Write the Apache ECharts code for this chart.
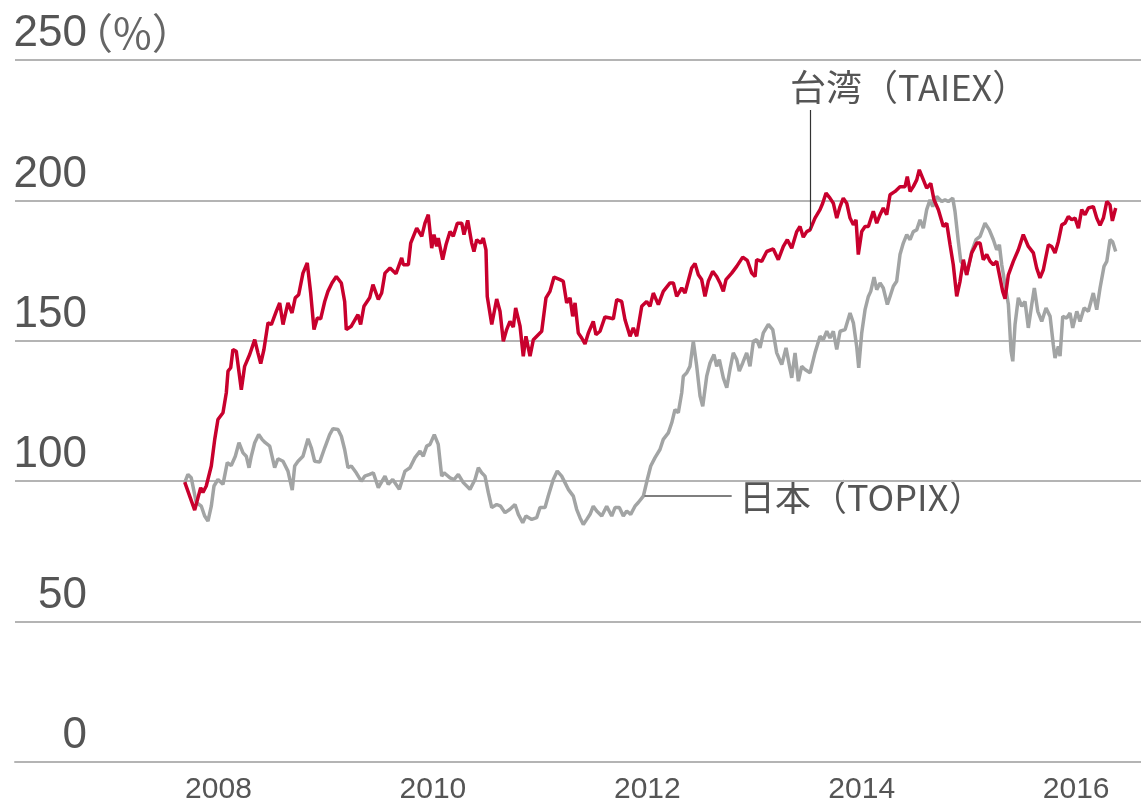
<!DOCTYPE html>
<html>
<head>
<meta charset="utf-8">
<script src="https://cdn.jsdelivr.net/npm/echarts@6/dist/echarts.min.js"></script>
<style>
  html, body { margin: 0; padding: 0; background: #fff; }
  #chart { width: 1141px; height: 805px; }
</style>
</head>
<body>
<div id="chart"></div>
<script>
// 目盛り
const yearTicks = [2008, 2010, 2012, 2014, 2016]
const unitLabel = '（%）'
const taiexName = '台湾（TAIEX）'
const topixName = '日本（TOPIX）'

// 台湾（TAIEX）
const taiexDates = [
  2007.685, 2007.778, 2007.834, 2007.855, 2007.886, 2007.933, 2007.965, 2007.995, 2008.042, 2008.073,
  2008.089, 2008.114, 2008.135, 2008.166, 2008.213, 2008.244, 2008.291, 2008.338, 2008.368, 2008.394,
  2008.424, 2008.462, 2008.493, 2008.539, 2008.571, 2008.602, 2008.648, 2008.686, 2008.716, 2008.748,
  2008.788, 2008.828, 2008.860, 2008.891, 2008.922, 2008.953, 2008.991, 2009.021, 2009.059, 2009.099,
  2009.146, 2009.177, 2009.192, 2009.239, 2009.301, 2009.326, 2009.357, 2009.410, 2009.441, 2009.491,
  2009.522, 2009.553, 2009.600, 2009.656, 2009.709, 2009.724, 2009.771, 2009.793, 2009.849, 2009.896,
  2009.926, 2009.957, 2009.989, 2010.010, 2010.035, 2010.050, 2010.091, 2010.122, 2010.160, 2010.190,
  2010.228, 2010.269, 2010.290, 2010.325, 2010.362, 2010.383, 2010.409, 2010.446, 2010.470, 2010.495,
  2010.507, 2010.549, 2010.595, 2010.626, 2010.657, 2010.688, 2010.719, 2010.750, 2010.772, 2010.813,
  2010.843, 2010.868, 2010.906, 2010.937, 2011.015, 2011.055, 2011.092, 2011.130, 2011.186, 2011.216,
  2011.248, 2011.279, 2011.304, 2011.326, 2011.356, 2011.388, 2011.419, 2011.450, 2011.496, 2011.521,
  2011.559, 2011.605, 2011.652, 2011.683, 2011.715, 2011.761, 2011.792, 2011.839, 2011.869, 2011.901,
  2011.948, 2011.994, 2012.025, 2012.056, 2012.103, 2012.149, 2012.212, 2012.243, 2012.274, 2012.321,
  2012.352, 2012.414, 2012.445, 2012.476, 2012.507, 2012.538, 2012.569, 2012.610, 2012.647, 2012.678,
  2012.709, 2012.734, 2012.787, 2012.834, 2012.890, 2012.933, 2012.974, 2013.005, 2013.020, 2013.067,
  2013.114, 2013.175, 2013.222, 2013.269, 2013.306, 2013.347, 2013.394, 2013.424, 2013.455, 2013.487,
  2013.518, 2013.564, 2013.611, 2013.636, 2013.667, 2013.704, 2013.735, 2013.767, 2013.798, 2013.828,
  2013.860, 2013.891, 2013.922, 2013.947, 2013.968, 2014.000, 2014.031, 2014.062, 2014.108, 2014.140,
  2014.171, 2014.201, 2014.233, 2014.264, 2014.311, 2014.357, 2014.404, 2014.425, 2014.451, 2014.481,
  2014.513, 2014.537, 2014.575, 2014.606, 2014.644, 2014.674, 2014.715, 2014.761, 2014.793, 2014.824,
  2014.854, 2014.886, 2014.917, 2014.948, 2014.979, 2015.026, 2015.073, 2015.104, 2015.134, 2015.166,
  2015.197, 2015.228, 2015.259, 2015.290, 2015.315, 2015.337, 2015.368, 2015.414, 2015.461, 2015.507,
  2015.554, 2015.601, 2015.632, 2015.663, 2015.694, 2015.741, 2015.772, 2015.803, 2015.834, 2015.866,
  2015.896, 2015.927, 2015.959, 2015.990, 2016.021, 2016.052, 2016.083, 2016.114, 2016.160, 2016.192,
  2016.223, 2016.254, 2016.286, 2016.316, 2016.338, 2016.369
]
const taiexValues = [
  99.7, 89.7, 97.7, 96.0, 98.3, 105.4, 114.9, 122.0, 124.4, 131.5,
  139.2, 140.4, 146.9, 146.3, 132.6, 140.9, 145.1, 150.4, 145.7, 141.9,
  146.9, 156.4, 155.8, 160.5, 163.5, 155.8, 163.5, 159.9, 165.3, 166.4,
  174.1, 177.7, 167.0, 154.0, 158.1, 157.8, 164.0, 167.6, 170.6, 172.9,
  170.6, 164.0, 154.0, 155.2, 159.3, 155.8, 162.3, 165.3, 170.0, 164.7,
  167.0, 174.1, 175.9, 173.9, 179.5, 177.1, 177.1, 184.8, 190.1, 187.2,
  191.9, 194.9, 183.0, 187.8, 183.6, 186.6, 178.9, 184.2, 188.9, 187.2,
  191.9, 191.9, 187.8, 192.9, 184.8, 181.8, 186.0, 184.8, 186.6, 182.4,
  165.8, 155.8, 164.9, 160.5, 149.8, 154.0, 156.9, 154.9, 161.7, 155.2,
  144.5, 151.6, 144.5, 150.4, 153.4, 165.3, 167.6, 172.7, 171.8, 171.2,
  163.5, 165.3, 158.7, 163.5, 152.8, 151.0, 148.9, 152.8, 156.9, 152.2,
  153.4, 158.5, 158.1, 157.8, 164.7, 164.0, 157.5, 151.6, 154.6, 151.6,
  162.3, 164.0, 162.3, 167.0, 162.9, 167.6, 170.6, 170.6, 165.8, 168.8,
  167.0, 175.9, 177.5, 173.5, 171.8, 165.8, 171.2, 174.7, 172.9, 170.6,
  167.6, 171.8, 174.1, 176.5, 179.8, 178.6, 174.1, 172.9, 178.9, 178.3,
  181.8, 182.7, 178.9, 183.6, 186.0, 183.0, 188.9, 190.7, 186.9, 188.9,
  189.5, 193.7, 196.7, 199.0, 202.6, 200.8, 199.0, 193.7, 197.8, 200.8,
  199.0, 193.7, 191.3, 193.1, 180.7, 188.9, 190.7, 190.7, 196.1, 191.9,
  194.9, 197.3, 194.9, 202.0, 203.2, 204.9, 204.9, 208.5, 203.2, 204.9,
  207.3, 210.9, 207.3, 204.4, 206.1, 200.2, 196.7, 190.7, 191.9, 184.2,
  177.1, 165.8, 171.2, 178.9, 173.5, 181.3, 184.8, 184.8, 178.9, 180.7,
  178.3, 177.1, 178.3, 172.4, 167.6, 165.0, 173.5, 178.3, 182.4, 187.8,
  183.6, 181.3, 175.9, 172.4, 175.3, 184.2, 183.6, 181.3, 185.4, 191.3,
  191.9, 194.3, 193.1, 193.7, 190.1, 196.7, 194.9, 197.3, 197.8, 193.7,
  191.1, 193.7, 199.6, 198.4, 192.7, 197.3
]

// 日本（TOPIX）
const topixDates = [
  2007.685, 2007.715, 2007.746, 2007.793, 2007.840, 2007.871, 2007.902, 2007.933, 2007.958, 2007.995,
  2008.042, 2008.082, 2008.119, 2008.157, 2008.191, 2008.229, 2008.259, 2008.285, 2008.306, 2008.338,
  2008.375, 2008.406, 2008.437, 2008.478, 2008.524, 2008.555, 2008.602, 2008.648, 2008.688, 2008.711,
  2008.742, 2008.788, 2008.835, 2008.866, 2008.897, 2008.944, 2008.991, 2009.037, 2009.068, 2009.115,
  2009.146, 2009.177, 2009.208, 2009.239, 2009.285, 2009.332, 2009.364, 2009.410, 2009.444, 2009.491,
  2009.553, 2009.584, 2009.625, 2009.687, 2009.740, 2009.786, 2009.833, 2009.880, 2009.910, 2009.942,
  2009.973, 2010.013, 2010.050, 2010.082, 2010.104, 2010.160, 2010.197, 2010.237, 2010.284, 2010.346,
  2010.393, 2010.424, 2010.455, 2010.486, 2010.517, 2010.549, 2010.595, 2010.632, 2010.673, 2010.719,
  2010.766, 2010.797, 2010.838, 2010.868, 2010.922, 2010.968, 2010.999, 2011.046, 2011.076, 2011.123,
  2011.160, 2011.201, 2011.232, 2011.263, 2011.310, 2011.341, 2011.372, 2011.403, 2011.435, 2011.466,
  2011.496, 2011.528, 2011.575, 2011.621, 2011.668, 2011.699, 2011.739, 2011.776, 2011.808, 2011.845,
  2011.885, 2011.916, 2011.963, 2012.000, 2012.032, 2012.072, 2012.118, 2012.149, 2012.196, 2012.228,
  2012.258, 2012.289, 2012.321, 2012.336, 2012.368, 2012.398, 2012.429, 2012.461, 2012.492, 2012.517,
  2012.554, 2012.585, 2012.622, 2012.647, 2012.672, 2012.709, 2012.741, 2012.771, 2012.802, 2012.834,
  2012.858, 2012.890, 2012.927, 2012.958, 2012.989, 2013.020, 2013.051, 2013.082, 2013.129, 2013.170,
  2013.207, 2013.254, 2013.294, 2013.315, 2013.347, 2013.378, 2013.409, 2013.440, 2013.471, 2013.518,
  2013.564, 2013.611, 2013.642, 2013.674, 2013.704, 2013.735, 2013.767, 2013.798, 2013.845, 2013.891,
  2013.922, 2013.953, 2013.972, 2014.000, 2014.031, 2014.062, 2014.084, 2014.115, 2014.140, 2014.171,
  2014.201, 2014.239, 2014.264, 2014.295, 2014.326, 2014.357, 2014.388, 2014.420, 2014.451, 2014.481,
  2014.513, 2014.544, 2014.575, 2014.606, 2014.637, 2014.662, 2014.700, 2014.746, 2014.777, 2014.808,
  2014.849, 2014.870, 2014.901, 2014.924, 2014.948, 2014.979, 2015.026, 2015.066, 2015.104, 2015.150,
  2015.190, 2015.228, 2015.259, 2015.284, 2015.306, 2015.337, 2015.368, 2015.393, 2015.409, 2015.430,
  2015.461, 2015.493, 2015.523, 2015.554, 2015.586, 2015.610, 2015.642, 2015.679, 2015.719, 2015.757,
  2015.787, 2015.803, 2015.834, 2015.850, 2015.875, 2015.912, 2015.943, 2015.968, 2016.006, 2016.036,
  2016.074, 2016.114, 2016.160, 2016.192, 2016.223, 2016.260, 2016.286, 2016.316, 2016.341, 2016.369
]
const topixValues = [
  99.5, 102.4, 101.2, 92.4, 91.1, 87.6, 85.8, 91.1, 98.3, 100.6,
  98.9, 106.6, 105.6, 108.9, 113.7, 110.1, 108.9, 104.8, 108.9, 113.7,
  116.6, 114.9, 113.7, 112.5, 104.8, 108.0, 107.1, 103.6, 96.8, 105.4,
  107.1, 108.9, 115.1, 111.9, 107.1, 106.8, 111.9, 116.6, 118.7, 118.4,
  116.0, 111.3, 104.8, 105.4, 103.0, 100.0, 101.8, 102.4, 103.0, 97.7,
  101.8, 98.9, 100.6, 97.1, 103.6, 104.8, 108.4, 110.7, 108.9, 112.5,
  113.1, 116.6, 113.1, 101.8, 103.0, 101.2, 100.6, 102.4, 99.5, 97.1,
  100.6, 104.8, 103.0, 101.8, 95.9, 90.6, 91.7, 91.1, 88.8, 90.0,
  91.7, 88.2, 85.2, 87.6, 86.4, 87.0, 90.6, 90.6, 94.7, 100.6,
  103.6, 101.8, 99.5, 97.1, 94.7, 90.0, 87.0, 84.6, 86.4, 88.2,
  91.1, 89.4, 87.6, 91.1, 87.6, 90.6, 90.6, 87.6, 89.4, 88.2,
  91.1, 92.4, 94.7, 100.6, 105.4, 108.4, 111.3, 114.9, 117.2, 120.8,
  125.5, 124.4, 131.5, 137.4, 138.6, 140.9, 149.8, 140.9, 130.3, 126.7,
  137.4, 142.1, 145.1, 140.9, 143.3, 136.8, 133.3, 139.8, 145.7, 143.3,
  139.2, 142.1, 145.7, 140.9, 149.8, 150.4, 147.5, 152.8, 155.8, 154.0,
  145.7, 141.5, 147.5, 143.3, 136.8, 145.7, 135.6, 140.9, 139.8, 138.6,
  145.7, 151.6, 150.4, 153.4, 151.0, 153.4, 146.9, 153.4, 154.0, 159.9,
  156.4, 148.0, 140.4, 152.8, 161.1, 165.8, 167.6, 172.7, 168.2, 170.6,
  168.8, 162.9, 165.8, 169.4, 171.2, 180.7, 184.8, 187.8, 186.0, 188.9,
  189.5, 193.1, 190.1, 196.7, 200.2, 197.8, 201.4, 199.6, 200.2, 199.6,
  200.8, 196.1, 185.4, 178.3, 177.1, 173.5, 181.8, 186.0, 187.2, 191.9,
  189.5, 186.0, 182.4, 184.2, 177.1, 170.0, 162.9, 146.3, 142.7, 155.8,
  165.3, 162.3, 164.0, 154.6, 162.9, 168.8, 160.5, 156.9, 161.7, 158.7,
  148.6, 143.9, 148.0, 144.5, 158.7, 158.1, 159.9, 154.6, 160.5, 156.9,
  161.7, 160.5, 167.0, 161.1, 168.8, 176.5, 178.3, 186.0, 185.2, 181.8
]

const textColor = '#555'
const gridColor = '#b4b4b4'

const chart = echarts.init(document.getElementById('chart'))

chart.setOption({
  animation: false,
  grid: { left: 15, right: 0, top: 60, bottom: 42 },
  xAxis: {
    type: 'value',
    min: 2006.102,
    max: 2016.605,
    axisLine: { show: true, lineStyle: { color: gridColor, width: 2 } },
    axisTick: { show: false },
    splitLine: { show: false },
    axisLabel: {
      customValues: yearTicks,
      formatter: v => String(v),
      color: textColor,
      fontSize: 30,
      fontFamily: 'Liberation Sans',
      margin: 13
    }
  },
  yAxis: {
    type: 'value',
    min: 0,
    max: 250,
    interval: 50,
    axisLine: { show: false },
    axisTick: { show: false },
    splitLine: { lineStyle: { color: gridColor, width: 2 } },
    axisLabel: {
      inside: true,
      align: 'right',
      verticalAlign: 'bottom',
      margin: 72,
      color: textColor,
      fontSize: 44,
      lineHeight: 44,
      padding: [0, 0, 4, 0],
      fontFamily: 'Liberation Sans'
    }
  },
  series: [
    {
      name: topixName,
      type: 'line',
      showSymbol: false,
      data: topixDates.map((d, i) => [d, topixValues[i]]),
      lineStyle: { color: '#a2a4a4', width: 3.5 },
      z: 2,
      markLine: {
        silent: true,
        symbol: 'none',
        label: { show: false },
        lineStyle: { color: '#555', width: 1.5, type: 'solid' },
        data: [[{ coord: [2011.975, 94.7] }, { coord: [2012.787, 94.7] }]]
      }
    },
    {
      name: taiexName,
      type: 'line',
      showSymbol: false,
      data: taiexDates.map((d, i) => [d, taiexValues[i]]),
      lineStyle: { color: '#c8002d', width: 3.5 },
      z: 3,
      markLine: {
        silent: true,
        symbol: 'none',
        label: { show: false },
        lineStyle: { color: '#333', width: 1.2, type: 'solid' },
        data: [[{ coord: [2013.518, 189.5] }, { coord: [2013.518, 232.2] }]]
      }
    }
  ],
  graphic: [
    {
      type: 'text',
      x: 71,
      y: 33,
      style: {
        text: unitLabel,
        font: '42px "Noto Sans CJK JP"',
        fill: '#666',
        align: 'left',
        verticalAlign: 'middle'
      }
    },
    {
      type: 'text',
      x: 790,
      y: 87,
      style: {
        text: taiexName,
        font: '36px "Noto Sans CJK JP"',
        fill: textColor,
        align: 'left',
        verticalAlign: 'middle'
      }
    },
    {
      type: 'text',
      x: 739,
      y: 497,
      style: {
        text: topixName,
        font: '36px "Noto Sans CJK JP"',
        fill: textColor,
        align: 'left',
        verticalAlign: 'middle'
      }
    }
  ]
})
</script>
</body>
</html>
